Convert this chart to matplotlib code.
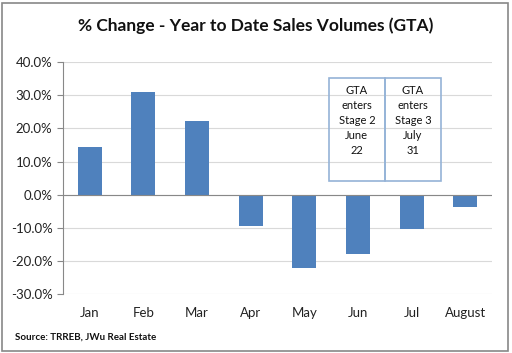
import matplotlib
matplotlib.use("Agg")
import matplotlib.pyplot as plt
from matplotlib.patches import Rectangle
from matplotlib.ticker import FuncFormatter

months = ["Jan", "Feb", "Mar", "Apr", "May", "Jun", "Jul", "August"]
changes = [14.4, 31.0, 22.3, -9.5, -22.0, -17.8, -10.4, -3.6]
annotations = ["GTA\nenters\nStage 2\nJune\n22", "GTA\nenters\nStage 3\nJuly\n31"]

plt.rcParams['font.family'] = ['Lato', 'DejaVu Sans']

fig = plt.figure(figsize=(5.12, 3.53), dpi=100)
ax = fig.add_axes([0.123, 0.167, 0.838, 0.657])

x = list(range(len(months)))
ax.bar(x, [c / 100 for c in changes], width=0.45, color="#4F81BD", zorder=3)

ax.set_xlim(-0.5, len(months) - 0.5)
ax.set_ylim(-0.30, 0.40)
ax.set_yticks([i / 10 for i in range(-3, 5)])
ax.yaxis.set_major_formatter(FuncFormatter(lambda v, p: f"{v*100:.1f}%"))
ax.set_xticks(x)
ax.set_xticklabels(months)
ax.tick_params(axis='x', length=0, pad=9, labelsize=9.5, colors="#222222")
ax.tick_params(axis='y', length=4, direction='out', color="#888888", labelsize=9.5, colors="#222222")
ax.grid(axis='y', color="#D9D9D9", linewidth=0.8, zorder=0)
for s in ["top", "right", "bottom"]:
    ax.spines[s].set_visible(False)
ax.spines["left"].set_color("#888888")
ax.axhline(0, color="#888888", linewidth=0.8, zorder=4)

# annotation boxes
box_left, box_mid, box_right = 4.46, 5.5, 6.55
box_bottom, box_top = 0.042, 0.353
for (l, r), txt in zip([(box_left, box_mid), (box_mid, box_right)], annotations):
    ax.add_patch(Rectangle((l, box_bottom), r - l, box_top - box_bottom,
                           fill=False, edgecolor="#95B3D7", linewidth=1.2, zorder=5))
    ax.text((l + r) / 2, box_top - 0.022, txt, ha="center", va="top",
            fontsize=8, linespacing=1.45, color="#111111", zorder=6)

fig.text(0.5, 0.928, "% Change - Year to Date Sales Volumes (GTA)", ha="center",
         va="center", fontsize=12.5, fontweight="bold", color="#111111")
fig.text(0.03, 0.045, "Source: TRREB, JWu Real Estate", ha="left", va="center",
         fontsize=7, fontweight="bold", color="#111111")

fig.add_artist(Rectangle((0.004, 0.006), 0.988, 0.985, transform=fig.transFigure,
                         fill=False, edgecolor="#888888", linewidth=1.2))

fig.savefig("out.png", dpi=100)
